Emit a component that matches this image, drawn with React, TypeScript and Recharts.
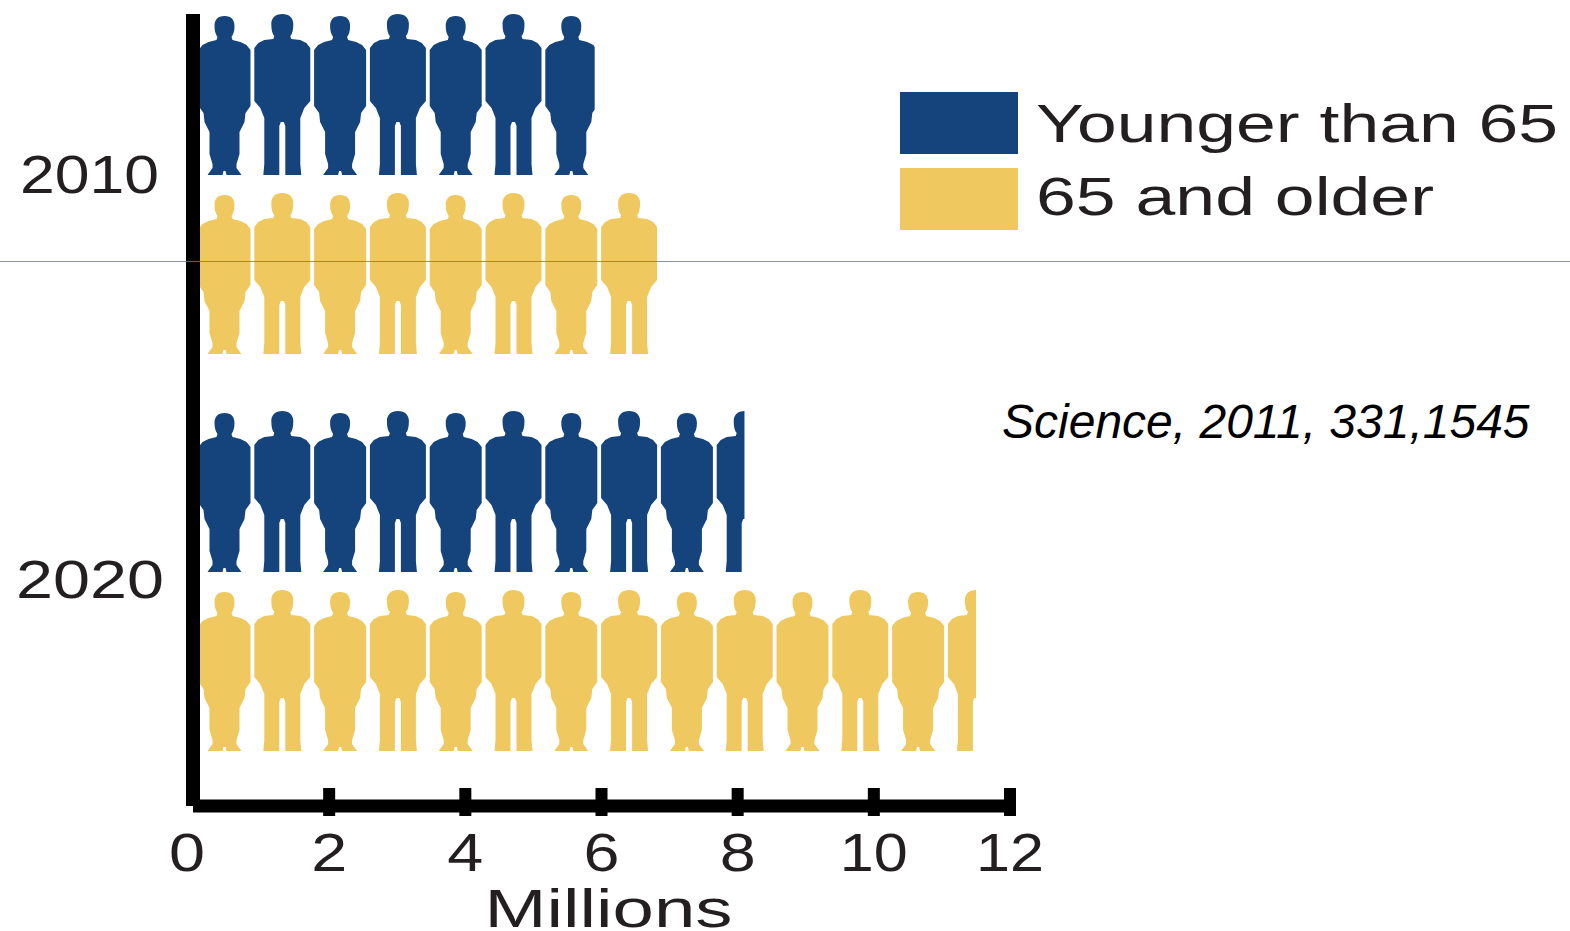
import { Bar, BarChart, Label, Legend, XAxis, YAxis } from "recharts"

const years = ["2010", "2020"]
const youngerThan65 = [5.9, 8.1]
const age65AndOlder = [6.84, 11.5]
const xTicks = [0, 2, 4, 6, 8, 10, 12]

const BLUE = "#14447b"
const GOLD = "#efc95f"
const FONT = "'Liberation Sans', Arial, sans-serif"

const chartData = years.map((year, i) => ({
  year,
  younger: youngerThan65[i],
  older: age65AndOlder[i],
}))

// silhouette outlines, x relative to the figure's centre, y relative to the top of the bar
const narrowFigure =
  "M0 2 C7 2 10 6 10 12 C10 17 9 20 7 23 L8 26 L16 28 L22 31 L26 36 L26 92 L21 99 L20 108 L15 118 L15 140 L12 150 L12 154 L17 161 L2 161 L1 157 L-1 157 L-2 161 L-17 161 L-12 154 L-12 150 L-15 140 L-15 118 L-20 108 L-21 99 L-26 92 L-26 36 L-22 31 L-16 28 L-8 26 L-7 23 C-9 20 -10 17 -10 12 C-10 6 -7 2 0 2 Z"
const wideFigure =
  "M0 0 C7 0 11 4 11 10 C11 16 10 20 8 22 L9 25 L18 26 L24 29 L28 34 L28 87 L22 94 L18 104 L18 150 L19 161 L3 161 L3 112 L1.5 108 L-1.5 108 L-3 112 L-3 161 L-19 161 L-18 150 L-18 104 L-22 94 L-28 87 L-28 34 L-24 29 L-18 26 L-9 25 L-8 22 C-10 20 -11 16 -11 10 C-11 4 -7 0 0 0 Z"

const FIGURE_SPACING = 57.8

function PeopleBar({ x, y, width, height, fill }: any) {
  const clipId = `people-${Math.round(x)}-${Math.round(y)}`
  const count = Math.ceil(width / FIGURE_SPACING) + 1
  return (
    <g>
      <clipPath id={clipId}>
        <rect x={x + 3} y={y - 2} width={width - 3} height={height + 4} />
      </clipPath>
      <g clipPath={`url(#${clipId})`}>
        {Array.from({ length: count }, (_, i) => (
          <path
            key={i}
            d={i % 2 === 0 ? narrowFigure : wideFigure}
            fill={fill}
            transform={`translate(${x + 31.5 + i * FIGURE_SPACING} ${y})`}
          />
        ))}
      </g>
    </g>
  )
}

function XTick({ x, y, payload }: any) {
  const value = payload.value
  const wide = value >= 10
  return (
    <g>
      {value !== 0 && <rect x={x - 6} y={y - 26} width={12} height={28} fill="#000" />}
      <text
        x={value === 0 ? x - 6 : x}
        y={y + 57}
        textAnchor="middle"
        fontFamily={FONT}
        fontSize={54}
        fill="#231f20"
        textLength={wide ? 68 : 36}
        lengthAdjust="spacingAndGlyphs"
      >
        {value}
      </text>
    </g>
  )
}

function YTick({ y, payload, index }: any) {
  return (
    <text
      x={index === 0 ? 20 : 16}
      y={index === 0 ? y + 9 : y + 17}
      fontFamily={FONT}
      fontSize={54}
      fill="#231f20"
      textLength={index === 0 ? 139 : 148}
      lengthAdjust="spacingAndGlyphs"
    >
      {payload.value}
    </text>
  )
}

function AxisTitle({ viewBox }: any) {
  return (
    <text
      x={viewBox.x + viewBox.width / 2 + 7}
      y={927}
      textAnchor="middle"
      fontFamily={FONT}
      fontSize={54}
      fill="#231f20"
      textLength={248}
      lengthAdjust="spacingAndGlyphs"
    >
      Millions
    </text>
  )
}

function KeyBox({ payload }: any) {
  return (
    <svg width={680} height={150} style={{ display: "block", overflow: "visible" }}>
      {(payload || []).map((entry: any, i: number) => (
        <g key={entry.value}>
          <rect x={0} y={i * 76} width={118} height={62} fill={entry.color} />
          <text
            x={136}
            y={i * 73 + 50}
            fontFamily={FONT}
            fontSize={54}
            fill="#231f20"
            textLength={i === 0 ? 522 : 398}
            lengthAdjust="spacingAndGlyphs"
          >
            {entry.value}
          </text>
        </g>
      ))}
    </svg>
  )
}

export default function App() {
  return (
    <div style={{ position: "absolute", left: 0, top: 0, width: 1570, height: 931, background: "#fff", overflow: "hidden" }}>
      <BarChart
        width={1570}
        height={931}
        data={chartData}
        layout="vertical"
        barSize={161}
        barGap={18}
        margin={{ top: 14, right: 560, bottom: 0, left: 0 }}
      >
        <XAxis
          type="number"
          domain={[0, 12]}
          ticks={xTicks}
          height={125}
          interval={0}
          axisLine={{ stroke: "#000", strokeWidth: 13 }}
          tickLine={false}
          tick={<XTick />}
        >
          <Label content={<AxisTitle />} />
        </XAxis>
        <YAxis
          type="category"
          dataKey="year"
          width={193}
          padding={{ top: -29, bottom: 27 }}
          axisLine={{ stroke: "#000", strokeWidth: 14 }}
          tickLine={false}
          tick={<YTick />}
        />
        <Legend
          content={<KeyBox />}
          itemSorter={null}
          wrapperStyle={{ position: "absolute", left: 900, top: 92, width: 0, height: 0, bottom: "auto" }}
        />
        <Bar dataKey="younger" name="Younger than 65" fill={BLUE} shape={<PeopleBar />} isAnimationActive={false} />
        <Bar dataKey="older" name="65 and older" fill={GOLD} shape={<PeopleBar />} isAnimationActive={false} />
      </BarChart>
      <div style={{ position: "absolute", left: 0, top: 261, width: 1570, height: 1, background: "#6f6fb5", opacity: 0.8 }} />
      <div
        style={{
          position: "absolute",
          left: 1002,
          top: 395,
          fontFamily: FONT,
          fontStyle: "italic",
          fontSize: 48,
          lineHeight: "54px",
          whiteSpace: "pre",
          color: "#000",
        }}
      >
        Science, 2011, 331,1545
      </div>
    </div>
  )
}
